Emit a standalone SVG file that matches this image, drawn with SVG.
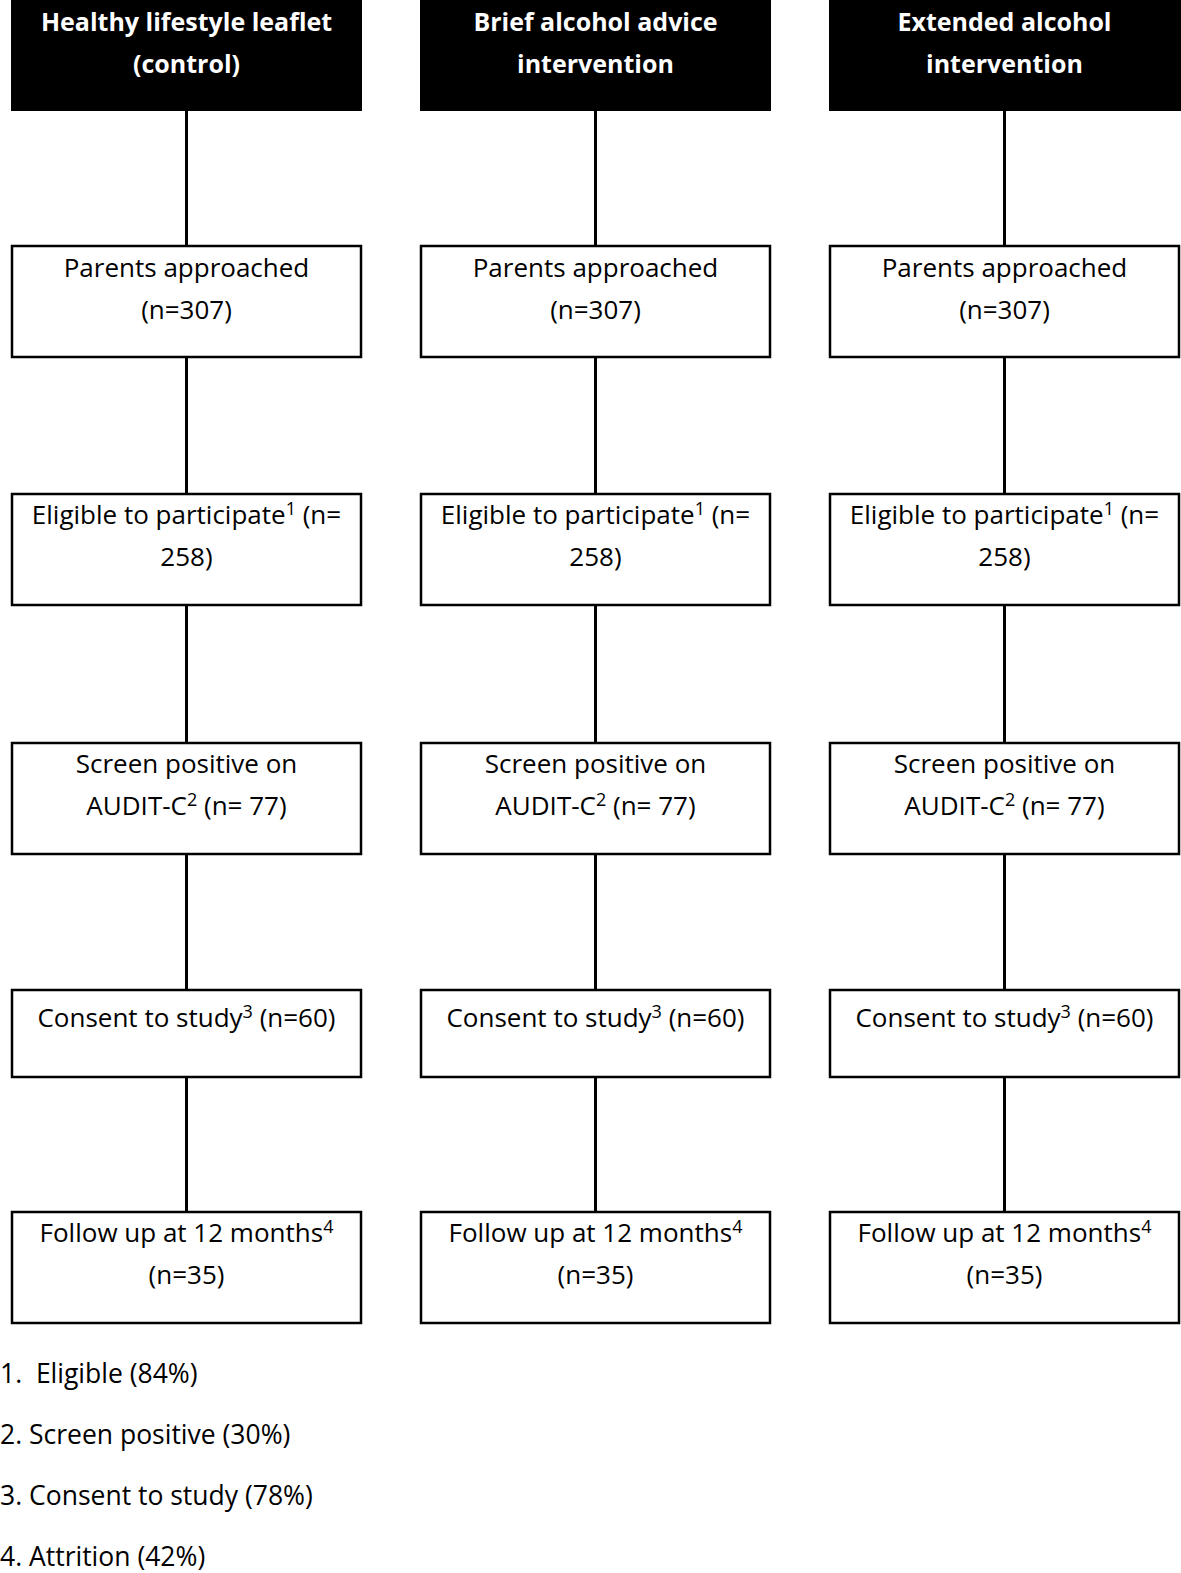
<svg xmlns="http://www.w3.org/2000/svg" width="1181" height="1573" viewBox="0 0 1181 1573">
<style>
.hdr{fill:#000;}
.box{fill:#fff;stroke:#000;stroke-width:2.5;}
.ht{font-family:"Open Sans","Noto Sans",sans-serif;font-size:25px;font-weight:bold;fill:#fff;text-anchor:middle;}
.t{font-family:"Open Sans","Noto Sans",sans-serif;font-size:26px;fill:#000;text-anchor:middle;}
.fn{font-family:"Open Sans","Noto Sans",sans-serif;font-size:26.5px;fill:#000;}
.c{stroke:#000;stroke-width:3;fill:none;}
.sup{font-size:18px;}
</style>
<g id="connectors">
<path class="c" d="M186.5 111V246M186.5 357V494M186.5 605V743M186.5 854V990M186.5 1077V1212"/>
<path class="c" d="M595.5 111V246M595.5 357V494M595.5 605V743M595.5 854V990M595.5 1077V1212"/>
<path class="c" d="M1004.5 111V246M1004.5 357V494M1004.5 605V743M1004.5 854V990M1004.5 1077V1212"/>
</g>
<g id="header1"><rect class="hdr" x="11" y="0" width="351" height="111"/><text class="ht" x="186.5" y="31">Healthy lifestyle leaflet</text><text class="ht" x="186.5" y="73">(control)</text></g>
<g id="header2"><rect class="hdr" x="420" y="0" width="351" height="111"/><text class="ht" x="595.5" y="31">Brief alcohol advice</text><text class="ht" x="595.5" y="73">intervention</text></g>
<g id="header3"><rect class="hdr" x="829" y="0" width="352" height="111"/><text class="ht" x="1004.5" y="31">Extended alcohol</text><text class="ht" x="1004.5" y="73">intervention</text></g>

<g id="parents1"><rect class="box" x="12" y="246" width="349" height="111"/><text class="t" x="186.5" y="277">Parents approached</text><text class="t" x="186.5" y="319">(n=307)</text></g>
<g id="parents2"><rect class="box" x="421" y="246" width="349" height="111"/><text class="t" x="595.5" y="277">Parents approached</text><text class="t" x="595.5" y="319">(n=307)</text></g>
<g id="parents3"><rect class="box" x="830" y="246" width="349" height="111"/><text class="t" x="1004.5" y="277">Parents approached</text><text class="t" x="1004.5" y="319">(n=307)</text></g>

<g id="eligible1"><rect class="box" x="12" y="494" width="349" height="111"/><text class="t" x="186.5" y="524">Eligible to participate<tspan class="sup" dy="-9">1</tspan><tspan dy="9"> (n=</tspan></text><text class="t" x="186.5" y="566">258)</text></g>
<g id="eligible2"><rect class="box" x="421" y="494" width="349" height="111"/><text class="t" x="595.5" y="524">Eligible to participate<tspan class="sup" dy="-9">1</tspan><tspan dy="9"> (n=</tspan></text><text class="t" x="595.5" y="566">258)</text></g>
<g id="eligible3"><rect class="box" x="830" y="494" width="349" height="111"/><text class="t" x="1004.5" y="524">Eligible to participate<tspan class="sup" dy="-9">1</tspan><tspan dy="9"> (n=</tspan></text><text class="t" x="1004.5" y="566">258)</text></g>

<g id="screen1"><rect class="box" x="12" y="743" width="349" height="111"/><text class="t" x="186.5" y="773">Screen positive on</text><text class="t" x="186.5" y="815">AUDIT-C<tspan class="sup" dy="-9">2</tspan><tspan dy="9"> (n= 77)</tspan></text></g>
<g id="screen2"><rect class="box" x="421" y="743" width="349" height="111"/><text class="t" x="595.5" y="773">Screen positive on</text><text class="t" x="595.5" y="815">AUDIT-C<tspan class="sup" dy="-9">2</tspan><tspan dy="9"> (n= 77)</tspan></text></g>
<g id="screen3"><rect class="box" x="830" y="743" width="349" height="111"/><text class="t" x="1004.5" y="773">Screen positive on</text><text class="t" x="1004.5" y="815">AUDIT-C<tspan class="sup" dy="-9">2</tspan><tspan dy="9"> (n= 77)</tspan></text></g>

<g id="consent1"><rect class="box" x="12" y="990" width="349" height="87"/><text class="t" x="186.5" y="1027">Consent to study<tspan class="sup" dy="-9">3</tspan><tspan dy="9"> (n=60)</tspan></text></g>
<g id="consent2"><rect class="box" x="421" y="990" width="349" height="87"/><text class="t" x="595.5" y="1027">Consent to study<tspan class="sup" dy="-9">3</tspan><tspan dy="9"> (n=60)</tspan></text></g>
<g id="consent3"><rect class="box" x="830" y="990" width="349" height="87"/><text class="t" x="1004.5" y="1027">Consent to study<tspan class="sup" dy="-9">3</tspan><tspan dy="9"> (n=60)</tspan></text></g>

<g id="follow1"><rect class="box" x="12" y="1212" width="349" height="111"/><text class="t" x="186.5" y="1242">Follow up at 12 months<tspan class="sup" dy="-9">4</tspan></text><text class="t" x="186.5" y="1284">(n=35)</text></g>
<g id="follow2"><rect class="box" x="421" y="1212" width="349" height="111"/><text class="t" x="595.5" y="1242">Follow up at 12 months<tspan class="sup" dy="-9">4</tspan></text><text class="t" x="595.5" y="1284">(n=35)</text></g>
<g id="follow3"><rect class="box" x="830" y="1212" width="349" height="111"/><text class="t" x="1004.5" y="1242">Follow up at 12 months<tspan class="sup" dy="-9">4</tspan></text><text class="t" x="1004.5" y="1284">(n=35)</text></g>

<g id="footnotes">
<text class="fn" x="0" y="1383" xml:space="preserve">1.  Eligible (84%)</text>
<text class="fn" x="0" y="1444">2. Screen positive (30%)</text>
<text class="fn" x="0" y="1505">3. Consent to study (78%)</text>
<text class="fn" x="0" y="1566">4. Attrition (42%)</text>
</g>
</svg>
